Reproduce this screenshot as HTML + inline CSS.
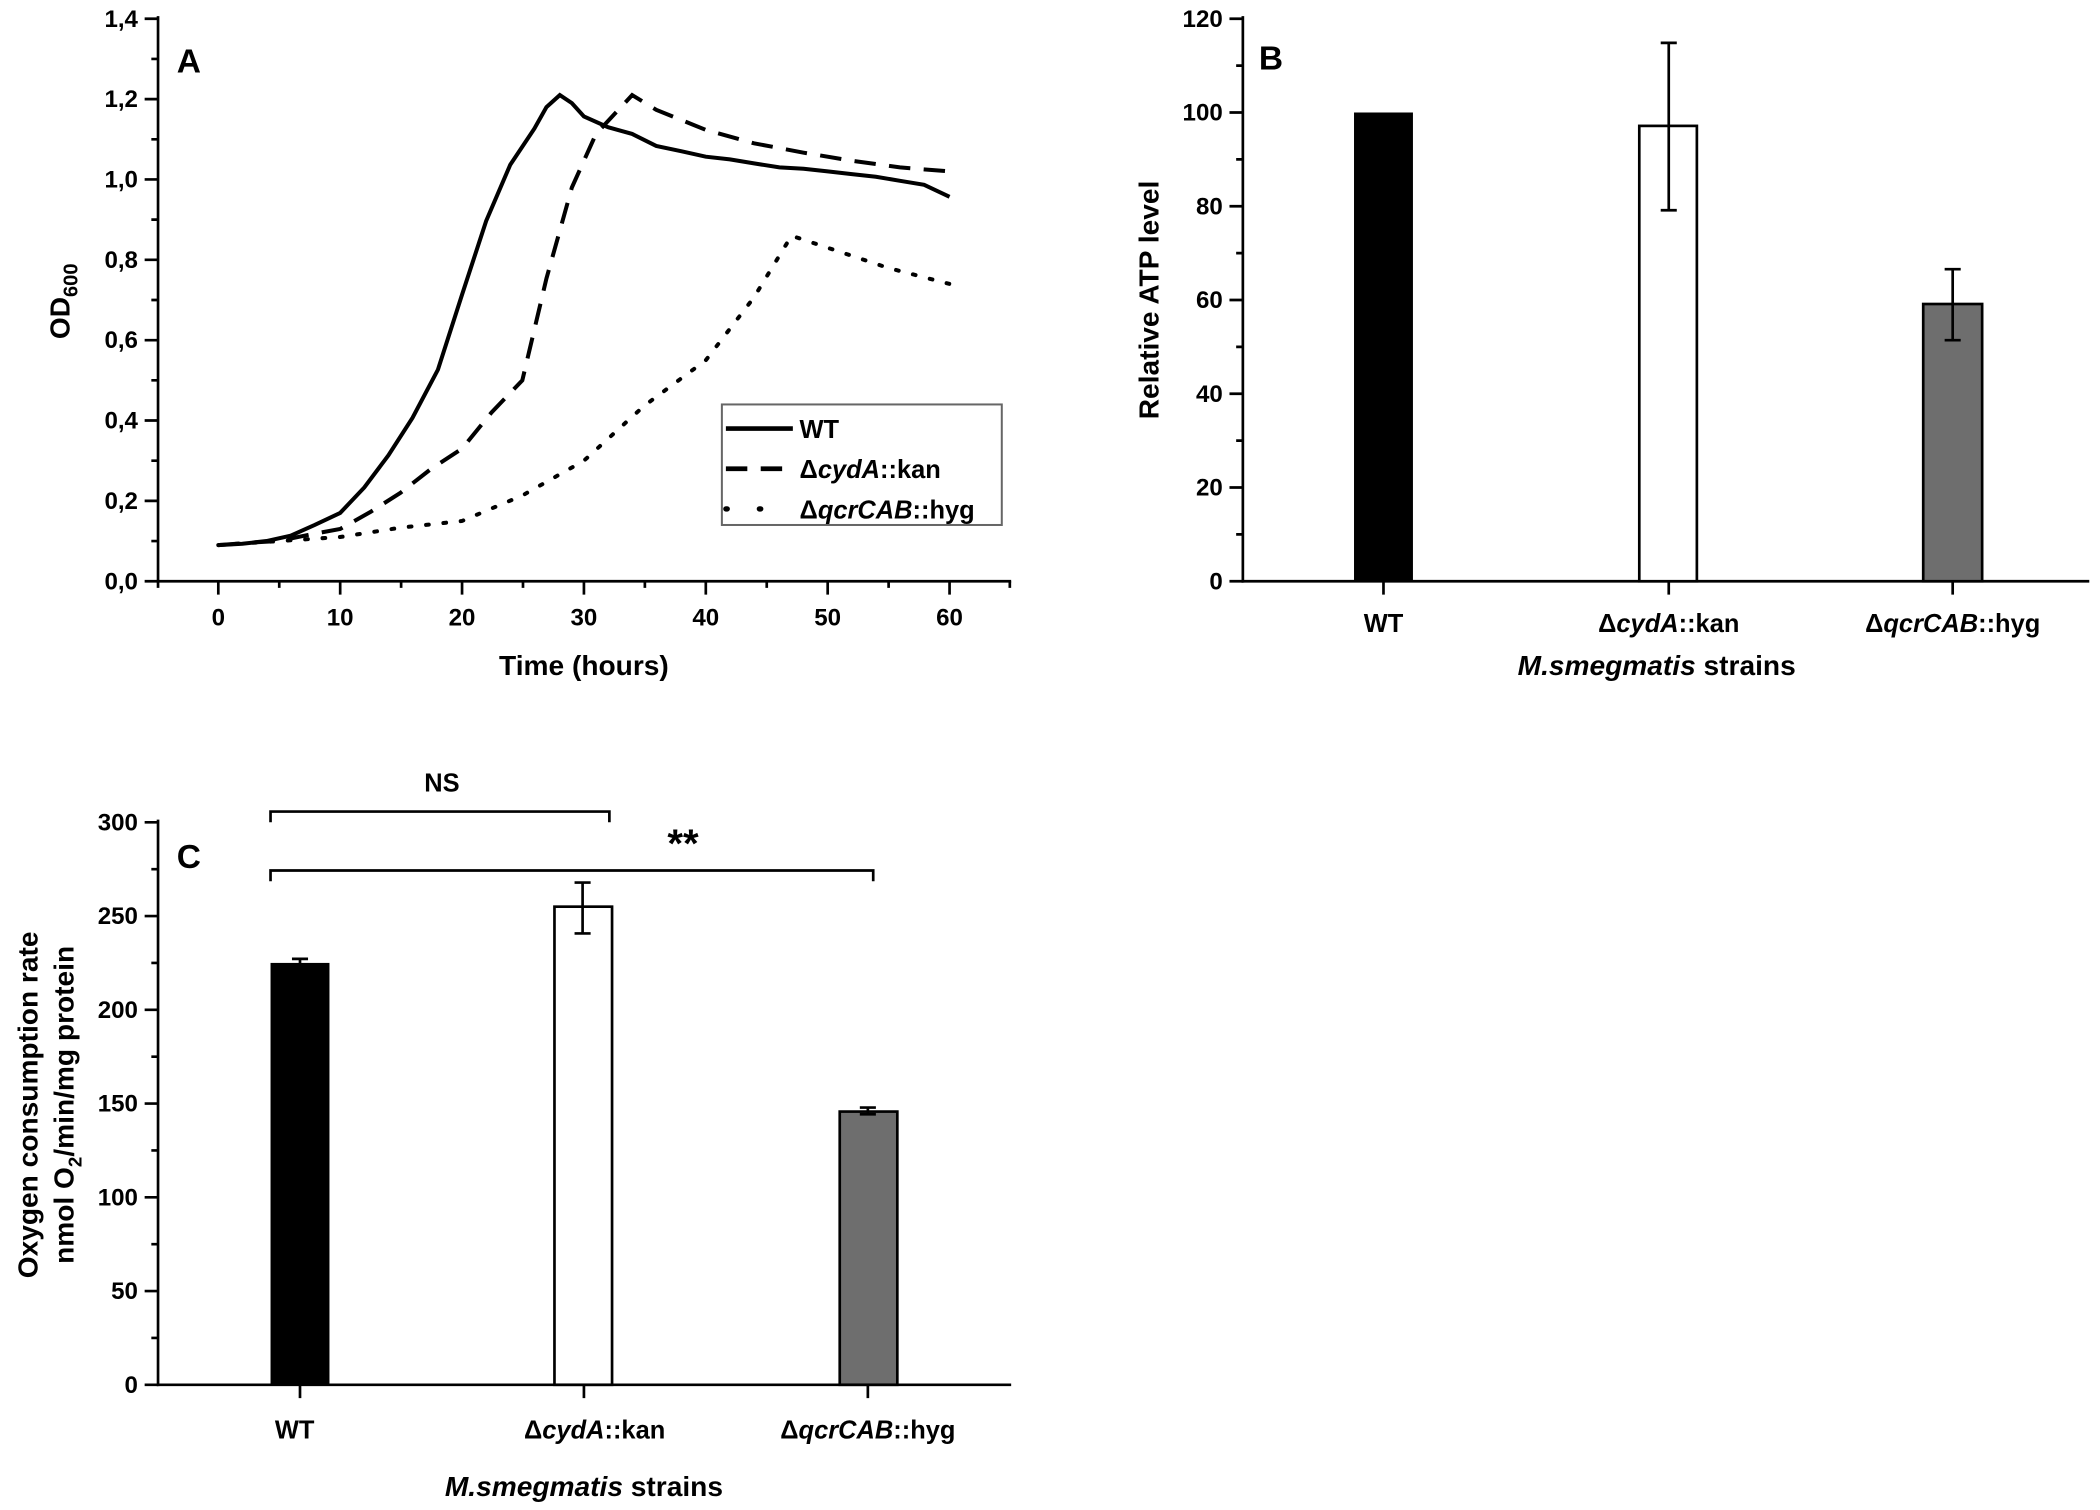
<!DOCTYPE html>
<html><head><meta charset="utf-8"><style>html,body{margin:0;padding:0;background:#fff}svg{display:block}text{font-family:"Liberation Sans",Arial,sans-serif;font-weight:bold;fill:#000}</style></head><body>
<svg width="2100" height="1510" viewBox="0 0 1568 1127.5" preserveAspectRatio="none" xmlns="http://www.w3.org/2000/svg">
<rect width="1568" height="1127.5" fill="#fff"/>
<!-- Panel A -->
<g stroke="#000" stroke-width="2" fill="none">
<line x1="118" y1="12" x2="118" y2="435"/><line x1="117" y1="434" x2="755" y2="434"/>
<path d="M108 434H118M108 374H118M108 314H118M108 254H118M108 194H118M108 134H118M108 74H118M108 14H118"/>
<path d="M113 404H118M113 344H118M113 284H118M113 224H118M113 164H118M113 104H118M113 44H118"/>
<path d="M163 434V444M254 434V444M345 434V444M436 434V444M527 434V444M618 434V444M709 434V444"/>
<path d="M118 434V439M208.5 434V439M299.5 434V439M390.5 434V439M481.5 434V439M572.5 434V439M663.5 434V439M754 434V439"/>
</g>
<g font-size="18" text-anchor="end">
<text x="103" y="440">0,0</text><text x="103" y="380">0,2</text><text x="103" y="320">0,4</text><text x="103" y="260">0,6</text><text x="103" y="200">0,8</text><text x="103" y="140">1,0</text><text x="103" y="80">1,2</text><text x="103" y="20">1,4</text>
</g>
<g font-size="18" text-anchor="middle">
<text x="163" y="467">0</text><text x="254" y="467">10</text><text x="345" y="467">20</text><text x="436" y="467">30</text><text x="527" y="467">40</text><text x="618" y="467">50</text><text x="709" y="467">60</text>
</g>
<text x="436" y="504" font-size="21" text-anchor="middle">Time (hours)</text>
<text transform="translate(52,225) rotate(-90)" font-size="21" text-anchor="middle">OD<tspan font-size="15" dy="6">600</tspan></text>
<text x="132" y="54" font-size="25">A</text>
<!-- curves: x=163+9.1t, y=434-300*OD -->
<polyline fill="none" stroke="#000" stroke-width="3" points="163,407 181,406 199,404 217,400 235,392 254,383 272,364 290,340 308,312 327,276 345,220 363,165 381,123 399,96 408,80 418,71 427,77 436,87 454,95 472,100 490,109 509,113 527,117 545,119 563,122 582,125 600,126 618,128 636,130 654,132 672,135 690,138 709,147"/>
<polyline fill="none" stroke="#000" stroke-width="3" stroke-dasharray="16,10" points="163,407 190,405 208,404 232,399 254,395 277,382 299,368 322,350 345,335 367,308 390,284 408,208 427,140 445,100 472,71 490,82 527,97 563,107 600,114 636,120 672,125 709,128"/>
<polyline fill="none" stroke="#000" stroke-width="3" stroke-dasharray="2,11" stroke-linecap="round" points="163,407 208,404 254,401 299,394 345,389 390,370 436,344 481,303 527,269 563,222 591,176 618,185 663,200 709,212"/>
<rect x="539" y="302" width="209" height="90" fill="#fff" stroke="#666" stroke-width="1.5"/>
<line x1="542" y1="320" x2="592" y2="320" stroke="#000" stroke-width="3.5"/>
<line x1="542" y1="350" x2="592" y2="350" stroke="#000" stroke-width="3.5" stroke-dasharray="16,10"/>
<line x1="542" y1="380" x2="592" y2="380" stroke="#000" stroke-width="4" stroke-dasharray="1,24" stroke-linecap="round"/>
<g font-size="19"><text x="597" y="327">WT</text><text x="597" y="357">Δ<tspan font-style="italic">cydA</tspan>::kan</text><text x="597" y="387">Δ<tspan font-style="italic">qcrCAB</tspan>::hyg</text></g>
<!-- Panel B -->
<g stroke="#000" stroke-width="2" fill="none">
<line x1="928" y1="12" x2="928" y2="435"/><line x1="927" y1="434" x2="1560" y2="434"/>
<path d="M918 434H928M918 364H928M918 294H928M918 224H928M918 154H928M918 84H928M918 14H928"/>
<path d="M923 399H928M923 329H928M923 259H928M923 189H928M923 119H928M923 49H928"/>
<path d="M1033 434V444M1246 434V444M1458 434V444"/>
</g>
<g font-size="18" text-anchor="end">
<text x="913" y="440">0</text><text x="913" y="370">20</text><text x="913" y="300">40</text><text x="913" y="230">60</text><text x="913" y="160">80</text><text x="913" y="90">100</text><text x="913" y="20">120</text>
</g>
<rect x="1011" y="84" width="44" height="350" fill="#000"/>
<rect x="1224" y="94" width="43" height="340" fill="#fff" stroke="#000" stroke-width="2"/>
<rect x="1436" y="227" width="44" height="207" fill="#6e6e6e" stroke="#000" stroke-width="2"/>
<g stroke="#000" stroke-width="2"><path d="M1246 157V32M1240 157H1252M1240 32H1252M1458 254V201M1452 254H1464M1452 201H1464"/></g>
<g font-size="19" text-anchor="middle"><text x="1033" y="472">WT</text><text x="1246" y="472">Δ<tspan font-style="italic">cydA</tspan>::kan</text><text x="1458" y="472">Δ<tspan font-style="italic">qcrCAB</tspan>::hyg</text></g>
<text x="1237" y="504" font-size="21" text-anchor="middle"><tspan font-style="italic">M.smegmatis</tspan> strains</text>
<text transform="translate(865,224) rotate(-90)" font-size="21" text-anchor="middle">Relative ATP level</text>
<text x="940" y="52" font-size="25">B</text>
<!-- Panel C -->
<g stroke="#000" stroke-width="2" fill="none">
<line x1="118" y1="612" x2="118" y2="1035"/><line x1="117" y1="1034" x2="755" y2="1034"/>
<path d="M108 1034H118M108 964H118M108 894H118M108 824H118M108 754H118M108 684H118M108 614H118"/>
<path d="M113 999H118M113 929H118M113 859H118M113 789H118M113 719H118M113 649H118"/>
<path d="M224 1034V1044M436 1034V1044M648 1034V1044"/>
</g>
<g font-size="18" text-anchor="end">
<text x="103" y="1040">0</text><text x="103" y="970">50</text><text x="103" y="900">100</text><text x="103" y="830">150</text><text x="103" y="760">200</text><text x="103" y="690">250</text><text x="103" y="620">300</text>
</g>
<rect x="202" y="719" width="44" height="315" fill="#000"/>
<rect x="414" y="677" width="43" height="357" fill="#fff" stroke="#000" stroke-width="2"/>
<rect x="627" y="830" width="43" height="204" fill="#6e6e6e" stroke="#000" stroke-width="2"/>
<g stroke="#000" stroke-width="2"><path d="M435 697V659M429 697H441M429 659H441M648 832V827M642 832H654M642 827H654M224 722V716M218 722H230M218 716H230"/></g>
<g stroke="#000" stroke-width="2" fill="none"><path d="M202 614V606H455V614M202 658V650H652V658"/></g>
<text x="330" y="591" font-size="19" text-anchor="middle">NS</text>
<text x="510" y="640" font-size="30" text-anchor="middle">**</text>
<g font-size="19" text-anchor="middle"><text x="220" y="1074">WT</text><text x="444" y="1074">Δ<tspan font-style="italic">cydA</tspan>::kan</text><text x="648" y="1074">Δ<tspan font-style="italic">qcrCAB</tspan>::hyg</text></g>
<text x="436" y="1117" font-size="21" text-anchor="middle"><tspan font-style="italic">M.smegmatis</tspan> strains</text>
<text transform="translate(28,825) rotate(-90)" font-size="21" text-anchor="middle">Oxygen consumption rate</text>
<text transform="translate(55,825) rotate(-90)" font-size="21" text-anchor="middle">nmol O<tspan font-size="14" dy="6">2</tspan><tspan dy="-6">/min/mg protein</tspan></text>
<text x="132" y="648" font-size="25">C</text>
</svg>
</body></html>
